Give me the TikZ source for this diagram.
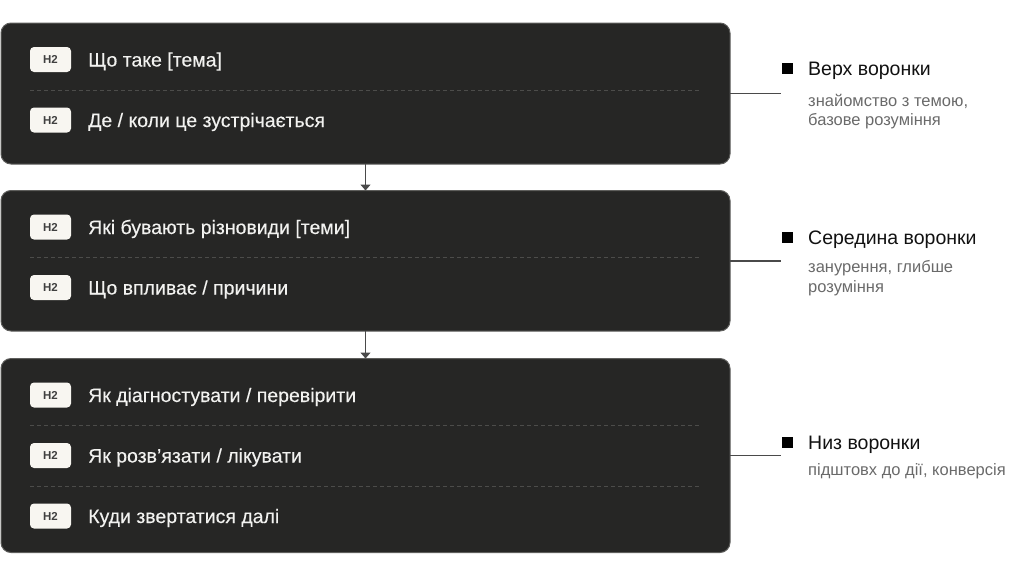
\documentclass[tikz,border=0pt]{standalone}
\usepackage{fontspec}
\setmainfont{Liberation Sans}
\newfontfamily\medfont{Liberation Sans}[FakeBold=0.25]
\usetikzlibrary{arrows.meta}
\definecolor{boxfill}{HTML}{262625}
\definecolor{boxline}{HTML}{5E5E5C}
\definecolor{badgefill}{HTML}{F8F6F1}
\definecolor{badgetext}{HTML}{404040}
\definecolor{rowtextc}{HTML}{F2F2F0}
\definecolor{sepc}{HTML}{4C4C4A}
\definecolor{connc}{HTML}{4A4A4A}
\definecolor{subc}{HTML}{6A6A6A}
\definecolor{titlec}{HTML}{111111}
\begin{document}
\begin{tikzpicture}[x=1pt,y=-1pt,
  funnelbox/.style={draw=boxline, line width=1pt, fill=boxfill, rounded corners=10pt,
    minimum width=729pt, inner sep=0pt, outer sep=0pt},
  badge/.style={fill=badgefill, rounded corners=4pt, minimum width=41pt, minimum height=25pt,
    inner sep=0pt, text=badgetext, font=\fontsize{11.5}{13}\selectfont\bfseries},
  rowtext/.style={anchor=base west, inner sep=0pt, text=rowtextc, font=\fontsize{19.5}{23}\selectfont\medfont},
  sepline/.style={draw=sepc, line width=0.8pt, dash pattern=on 4pt off 3pt},
  flowarrow/.style={draw=connc, line width=1.2pt, -{Triangle[width=10pt,length=6pt]}},
  sideline/.style={draw=connc, line width=1.1pt},
  bulletsq/.style={fill=black, minimum size=11pt, inner sep=0pt},
  sidetitle/.style={anchor=base west, inner sep=0pt, text=titlec, font=\fontsize{19.5}{23}\selectfont},
  sidesub/.style={anchor=base west, inner sep=0pt, text=subc, font=\fontsize{16.5}{19}\selectfont},
]
\useasboundingbox (0,0) rectangle (1024,576);

% boxes
\node[funnelbox, minimum height=141pt] (b1) at (365.5,93.5) {};
\node[funnelbox, minimum height=140.5pt] (b2) at (365.5,260.75) {};
\node[funnelbox, minimum height=194pt] (b3) at (365.5,455.5) {};

% separators
\coordinate (s1a) at (30,90); \coordinate (s1b) at (700,90);
\coordinate (s2a) at (30,257.5); \coordinate (s2b) at (700,257.5);
\coordinate (s3a) at (30,425.5); \coordinate (s3b) at (700,425.5);
\coordinate (s4a) at (30,486); \coordinate (s4b) at (700,486);
\draw[sepline] (s1a) -- (s1b);
\draw[sepline] (s2a) -- (s2b);
\draw[sepline] (s3a) -- (s3b);
\draw[sepline] (s4a) -- (s4b);

% rows box 1
\node[badge] (h11) at (50.5,59.5) {H2};
\node[rowtext] (r11) at (88,66.5) {Що таке [тема]};
\node[badge] (h12) at (50.5,120) {H2};
\node[rowtext] (r12) at (88,127) {Де / коли це зустрічається};
% rows box 2
\node[badge] (h21) at (50.5,227) {H2};
\node[rowtext] (r21) at (88,234) {Які бувають різновиди [теми]};
\node[badge] (h22) at (50.5,287.5) {H2};
\node[rowtext] (r22) at (88,294.5) {Що впливає / причини};
% rows box 3
\node[badge] (h31) at (50.5,395) {H2};
\node[rowtext] (r31) at (88,402) {Як діагностувати / перевірити};
\node[badge] (h32) at (50.5,455.5) {H2};
\node[rowtext] (r32) at (88,462.5) {Як розв’язати / лікувати};
\node[badge] (h33) at (50.5,516) {H2};
\node[rowtext] (r33) at (88,523) {Куди звертатися далі};

% flow arrows
\draw[flowarrow] (b1.south) -- (b2.north);
\draw[flowarrow] (b2.south) -- (b3.north);

% side labels
\coordinate (m1) at (781,93.5);
\coordinate (m2) at (781,261);
\coordinate (m3) at (781,455.5);
\draw[sideline] (b1.east |- m1) -- (m1);
\draw[sideline] (b2.east |- m2) -- (m2);
\draw[sideline] (b3.east |- m3) -- (m3);

\node[bulletsq] (q1) at (787.5,68.5) {};
\node[sidetitle] (l1) at (808,75.5) {Верх воронки};
\node[sidesub] (l1a) at (808,106.5) {знайомство з темою,};
\node[sidesub] (l1b) at (808,125.5) {базове розуміння};

\node[bulletsq] (q2) at (787.5,237.5) {};
\node[sidetitle] (l2) at (808,244.5) {Середина воронки};
\node[sidesub] (l2a) at (808,272.5) {занурення, глибше};
\node[sidesub] (l2b) at (808,292.5) {розуміння};

\node[bulletsq] (q3) at (787.5,442) {};
\node[sidetitle] (l3) at (808,449) {Низ воронки};
\node[sidesub] (l3a) at (808,475) {підштовх до дії, конверсія};
\end{tikzpicture}
\end{document}
